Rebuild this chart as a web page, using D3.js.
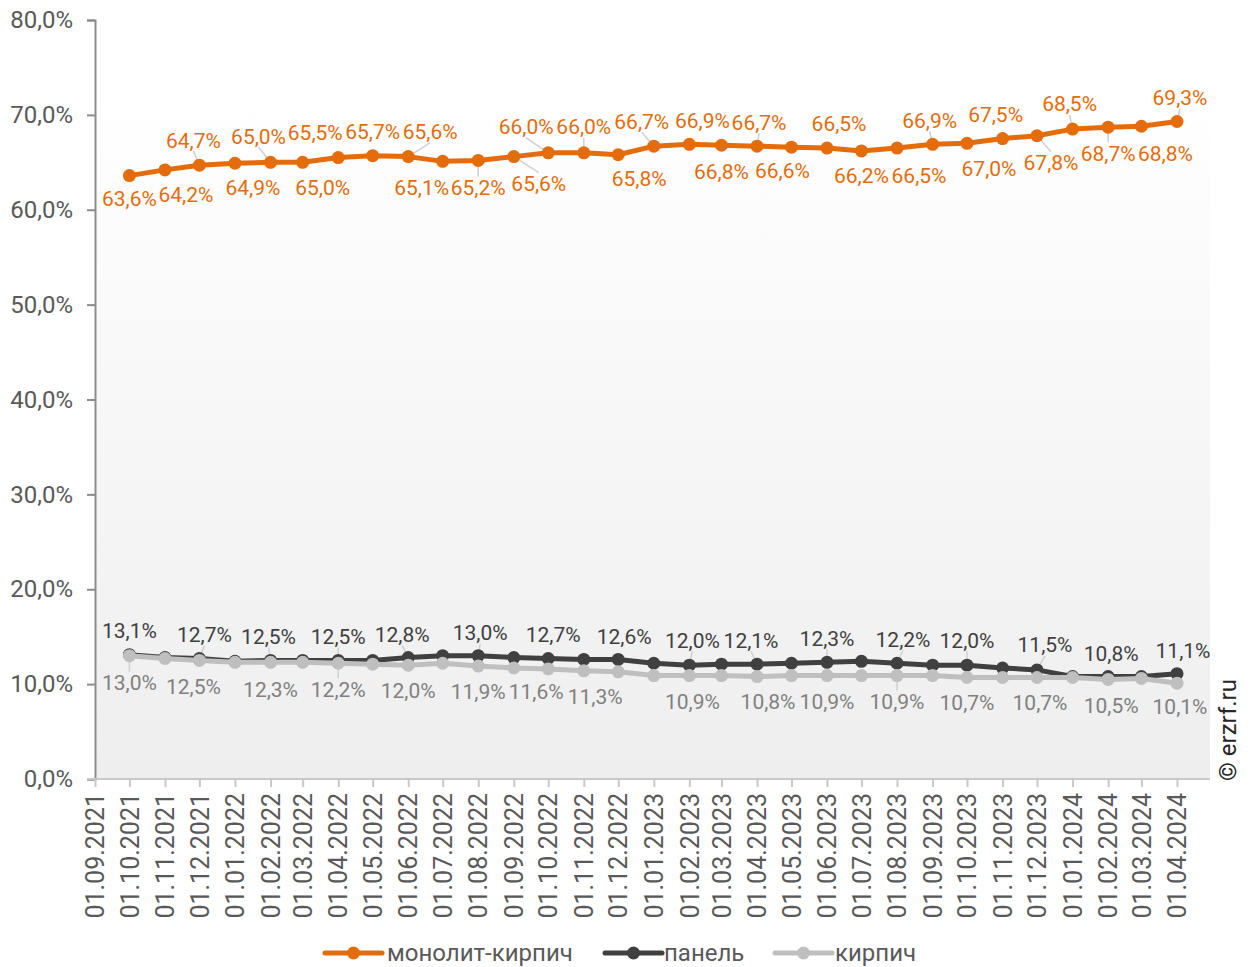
<!DOCTYPE html>
<html>
<head>
<meta charset="utf-8">
<script src="https://cdn.jsdelivr.net/npm/d3@7/dist/d3.min.js"></script>
<style>
  html, body { margin: 0; padding: 0; background: #fff; }
  svg { display: block; font-family: Roboto, "Noto Sans", sans-serif; }
</style>
</head>
<body>
<svg id="chart" width="1251" height="967"></svg>
<script>
// Monthly dates (first of month), axis starts one month before the first value
const axisDates = ["01.09.2021","01.10.2021","01.11.2021","01.12.2021","01.01.2022","01.02.2022","01.03.2022","01.04.2022","01.05.2022","01.06.2022","01.07.2022","01.08.2022","01.09.2022","01.10.2022","01.11.2022","01.12.2022","01.01.2023","01.02.2023","01.03.2023","01.04.2023","01.05.2023","01.06.2023","01.07.2023","01.08.2023","01.09.2023","01.10.2023","01.11.2023","01.12.2023","01.01.2024","01.02.2024","01.03.2024","01.04.2024"];
const dataDates = axisDates.slice(1);

// Share of housing by wall material, %
const monolith = [63.6,64.2,64.7,64.9,65.0,65.0,65.5,65.7,65.6,65.1,65.2,65.6,66.0,66.0,65.8,66.7,66.9,66.8,66.7,66.6,66.5,66.2,66.5,66.9,67.0,67.5,67.8,68.5,68.7,68.8,69.3];
const panel    = [13.1,12.8,12.7,12.4,12.5,12.5,12.5,12.5,12.8,13.0,13.0,12.8,12.7,12.6,12.6,12.2,12.0,12.1,12.1,12.2,12.3,12.4,12.2,12.0,12.0,11.7,11.5,10.8,10.8,10.8,11.1];
const brick    = [13.0,12.7,12.5,12.3,12.3,12.3,12.2,12.1,12.0,12.2,11.9,11.7,11.6,11.4,11.3,10.9,10.9,10.9,10.8,10.9,10.9,10.9,10.9,10.9,10.7,10.7,10.7,10.7,10.5,10.6,10.1];

const seriesNames = ["монолит-кирпич","панель","кирпич"];
const yTicks = [0,10,20,30,40,50,60,70,80];

// Label placement: [dx, dy, leader] relative to the marker
const monolithLabelPos = [[0,23,0],[21,25,0],[-6,-25,1],[18,24,0],[-12,-26,1],[20,25,0],[-23,-25,0],[0,-24,0],[22,-25,1],[-21,26,0],[0,27,1],[25,27,1],[-22,-26,1],[0,-26,1],[21,24,0],[-12,-25,1],[13,-24,0],[0,26,0],[2,-24,1],[-9,24,0],[12,-24,0],[0,25,0],[22,28,0],[-3,-24,1],[22,25,0],[-7,-24,0],[14,27,1],[-3,-25,1],[0,26,1],[24,27,0],[3,-24,1]];
const panelLabelPos = {0:[0,-24,0],2:[5,-24,1],4:[-2,-24,1],6:[0,-24,1],8:[-6,-23,1],10:[2,-23,1],12:[5,-24,0],14:[6,-23,0],16:[3,-25,1],18:[-6,-24,1],20:[0,-24,1],22:[6,-24,1],24:[0,-25,1],26:[8,-25,1],28:[3,-23,0],30:[6,-23,0]};
const brickLabelPos = {0:[0,27,1],2:[-6,26,0],4:[0,27,0],6:[0,26,1],8:[0,25,0],10:[0,26,0],12:[-12,23,0],14:[-23,25,0],16:[3,26,0],18:[11,25,0],20:[0,26,0],22:[0,26,1],24:[0,25,0],26:[3,25,0],28:[3,26,0],30:[3,23,0]};

const parse = d3.timeParse("%d.%m.%Y");
const colors = ["#e46c0a", "#404040", "#bfbfbf"];
const labelColors = ["#e46c0a", "#404040", "#808080"];

const svg = d3.select("#chart");
const m = { left: 95, right: 1177, top: 20, bottom: 779 };

const x = d3.scaleTime()
  .domain([parse(axisDates[0]), parse(axisDates[axisDates.length - 1])])
  .range([m.left, m.right]);
const y = d3.scaleLinear().domain([0, 80]).range([m.bottom, m.top]);

// Plot area background: soft vertical gradient
const defs = svg.append("defs");
const grad = defs.append("linearGradient").attr("id", "bg").attr("x1", 0).attr("y1", 0).attr("x2", 0).attr("y2", 1);
grad.append("stop").attr("offset", "0%").attr("stop-color", "#ffffff");
grad.append("stop").attr("offset", "10%").attr("stop-color", "#ffffff");
grad.append("stop").attr("offset", "100%").attr("stop-color", "#eeeeee");
svg.append("rect").attr("x", m.left).attr("y", m.top)
  .attr("width", 1210 - m.left).attr("height", m.bottom - m.top)
  .attr("fill", "url(#bg)");

// Y axis
const yAxis = svg.append("g").attr("transform", `translate(${m.left},0)`)
  .call(d3.axisLeft(y).tickValues(yTicks).tickSize(8).tickPadding(14)
    .tickFormat(d => d3.format(".1f")(d).replace(".", ",") + "%"));
yAxis.select(".domain").attr("stroke", "#8c8c8c").attr("stroke-width", 2);
yAxis.selectAll(".tick line").attr("stroke", "#8c8c8c").attr("stroke-width", 2);
yAxis.selectAll(".tick text").attr("fill", "#595959").style("font-size", "24px").style("font-family", "Roboto");

// X axis
const xAxis = svg.append("g").attr("transform", `translate(0,${m.bottom})`)
  .call(d3.axisBottom(x).tickValues(axisDates.map(parse)).tickSize(8).tickSizeOuter(0)
    .tickFormat(d3.timeFormat("%d.%m.%Y")));
xAxis.select(".domain").attr("stroke", "#c8c8c8").attr("stroke-width", 2)
  .attr("d", `M${m.left - 8},0H${1210}`);
xAxis.selectAll(".tick line").attr("stroke", "#c8c8c8").attr("stroke-width", 2);
xAxis.selectAll(".tick text")
  .attr("fill", "#595959").style("font-size", "25px").style("font-family", "Roboto")
  .attr("transform", "rotate(-90)")
  .attr("text-anchor", "end")
  .attr("x", -14).attr("y", 0).attr("dy", "0.35em");

const fmt = v => d3.format(".1f")(v).replace(".", ",") + "%";
const series = [monolith, panel, brick];
const layouts = [monolithLabelPos, panelLabelPos, brickLabelPos];

// Leader lines first, so markers sit on top of them
series.forEach((vals, si) => {
  const pos = layouts[si];
  vals.forEach((v, i) => {
    const p = pos[i];
    if (!p || !p[2]) return;
    const px = x(parse(dataDates[i])), py = y(v);
    const lx = px + p[0], ly = py + p[1] + (p[1] < 0 ? 11 : -11);
    svg.append("line").attr("x1", px).attr("y1", py).attr("x2", lx).attr("y2", ly)
      .attr("stroke", "#d0d0d0").attr("stroke-width", 1.5);
  });
});

// Lines and markers
series.forEach((vals, si) => {
  const pts = vals.map((v, i) => [x(parse(dataDates[i])), y(v)]);
  svg.append("path").attr("d", d3.line()(pts))
    .attr("fill", "none").attr("stroke", colors[si]).attr("stroke-width", 5)
    .attr("stroke-linejoin", "round");
  svg.append("g").selectAll("circle").data(pts).join("circle")
    .attr("cx", d => d[0]).attr("cy", d => d[1]).attr("r", 6.5)
    .attr("fill", colors[si]);
});

// Value labels
series.forEach((vals, si) => {
  const pos = layouts[si];
  vals.forEach((v, i) => {
    const p = pos[i];
    if (!p) return;
    const px = x(parse(dataDates[i])), py = y(v);
    svg.append("text").attr("x", px + p[0]).attr("y", py + p[1])
      .attr("text-anchor", "middle").attr("dy", "0.35em")
      .attr("fill", labelColors[si]).style("font-size", "21px")
      .text(fmt(v));
  });
});

// Legend
const legendItems = [
  { x0: 325, tx: 387 },
  { x0: 605, tx: 664 },
  { x0: 775, tx: 835 }
];
const lg = svg.append("g");
legendItems.forEach((it, i) => {
  const ly = 953;
  lg.append("line").attr("x1", it.x0).attr("x2", it.x0 + 57).attr("y1", ly).attr("y2", ly)
    .attr("stroke", colors[i]).attr("stroke-width", 5).attr("stroke-linecap", "round");
  lg.append("circle").attr("cx", it.x0 + 28.5).attr("cy", ly).attr("r", 6.5).attr("fill", colors[i]);
  lg.append("text").attr("x", it.tx).attr("y", ly).attr("dy", "0.35em")
    .attr("fill", "#595959").style("font-size", "24px").text(seriesNames[i]);
});

// Source mark
svg.append("text").attr("transform", "translate(1236,730) rotate(-90)")
  .attr("text-anchor", "middle").attr("fill", "#262626").style("font-size", "24px")
  .text("© erzrf.ru");
</script>
</body>
</html>
